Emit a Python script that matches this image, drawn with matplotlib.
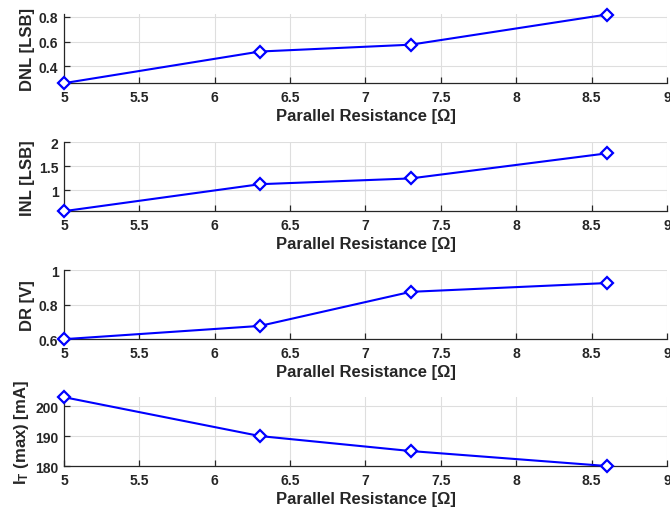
import matplotlib
matplotlib.use("Agg")
import matplotlib.pyplot as plt

plt.rcParams['font.family'] = ['Liberation Sans', 'DejaVu Sans']
plt.rcParams['font.weight'] = 'bold'
plt.rcParams['mathtext.fontset'] = 'custom'
plt.rcParams['mathtext.rm'] = 'Liberation Sans:bold'
plt.rcParams['mathtext.bf'] = 'Liberation Sans:bold'
plt.rcParams['mathtext.it'] = 'Liberation Sans:bold'

resistance = [5.0, 6.3, 7.3, 8.6]
dnl = [0.265, 0.52, 0.575, 0.818]
inl = [0.57, 1.13, 1.25, 1.77]
dr = [0.60, 0.677, 0.875, 0.926]
it_max = [203, 190, 185, 180]

xticks = [5, 5.5, 6, 6.5, 7, 7.5, 8, 8.5, 9]
xticklabels = ['5', '5.5', '6', '6.5', '7', '7.5', '8', '8.5', '9']

panels = [
    (dnl, 'DNL [LSB]', (0.265, 0.82), [0.4, 0.6, 0.8], ['0.4', '0.6', '0.8']),
    (inl, 'INL [LSB]', (0.57, 2.0), [1, 1.5, 2], ['1', '1.5', '2']),
    (dr, 'DR [V]', (0.6, 1.0), [0.6, 0.8, 1.0], ['0.6', '0.8', '1']),
    (it_max, r'$\mathbf{I_T}$ (max) [mA]', (180, 203), [180, 190, 200], ['180', '190', '200']),
]

fig = plt.figure(figsize=(6.7, 5.1), dpi=100)
bottoms = [0.835, 0.584, 0.333, 0.0843]
height = 0.135
left, width = 0.0955, 0.9

dark = '#262626'
for (vals, ylab, ylim, yt, ytl), b in zip(panels, bottoms):
    ax = fig.add_axes([left, b, width, height])
    ax.plot(resistance, vals, color='#0000ff', lw=1.5, marker='D', markersize=6.5,
            markerfacecolor='white', markeredgecolor='#0000ff', markeredgewidth=1.6,
            clip_on=False, zorder=5)
    ax.set_xlim(5, 9)
    ax.set_ylim(*ylim)
    ax.set_xticks(xticks)
    ax.set_xticklabels(xticklabels)
    ax.set_yticks(yt)
    ax.set_yticklabels(ytl)
    ax.grid(True, color='#dedede', lw=0.8)
    ax.set_axisbelow(True)
    for s in ['top', 'right']:
        ax.spines[s].set_visible(False)
    for s in ['left', 'bottom']:
        ax.spines[s].set_color(dark)
        ax.spines[s].set_linewidth(0.9)
    ax.tick_params(direction='in', length=4, colors=dark, labelsize=10, width=0.9)
    ax.tick_params(axis='x', pad=5)
    ax.tick_params(axis='y', pad=4)
    for lab in ax.get_xticklabels() + ax.get_yticklabels():
        lab.set_fontweight('bold')
    ax.set_xlabel('Parallel Resistance [Ω]', fontsize=12, fontweight='bold', color=dark, labelpad=3)
    ax.set_ylabel(ylab, fontsize=12, fontweight='bold', color=dark, labelpad=3)

fig.savefig('out.png', dpi=100)
